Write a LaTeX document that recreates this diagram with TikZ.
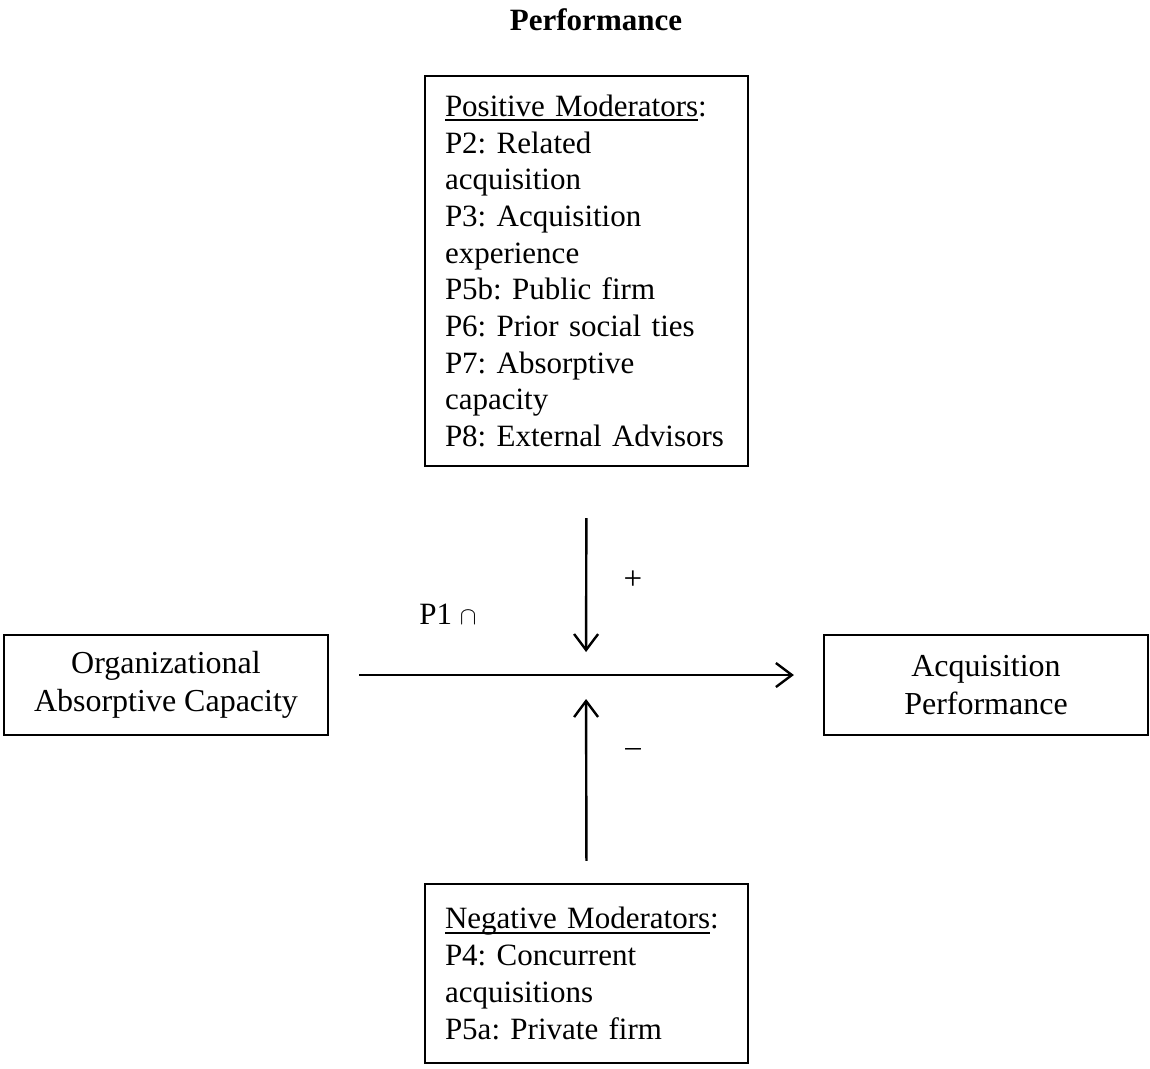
\documentclass[tikz,border=0pt]{standalone}
\usepackage{fontspec}
\setmainfont{Liberation Serif}
\usetikzlibrary{arrows.meta}

% underline drawn as a firm rule a little below the baseline
\newcommand{\heavyul}[1]{\setbox0\hbox{#1}\rlap{\rule[-4.5pt]{\wd0}{1.8pt}}\box0}

\begin{document}
\frenchspacing
\begin{tikzpicture}[x=1pt,y=-1pt,
  every node/.style={font=\fontsize{31}{36.7}\selectfont, text=black},
  box/.style={draw, line width=2.2pt, rectangle, inner sep=0pt},
  listbox/.style={box, align=left, text width=283pt, minimum width=323pt},
  midbox/.style={box, align=center, minimum width=324pt, minimum height=100pt,
                 font=\fontsize{32}{38}\selectfont},
  link/.style={line width=2.4pt, -{Straight Barb[length=16pt, width=24pt, line width=2.4pt]}}
]
\useasboundingbox (0,0) rectangle (1150,1068);

% heading
\node[font=\fontsize{31}{36}\selectfont\bfseries] (title) at (596,20) {Performance};

% moderator boxes
\node[listbox, minimum height=390pt] (pos) at (586.5,271) {%
\heavyul{Positive Moderators}:\\
P2: Related\\
acquisition\\
P3: Acquisition\\
experience\\
P5b: Public firm\\
P6: Prior social ties\\
P7: Absorptive\\
capacity\\
P8: External Advisors};

\node[listbox, minimum height=179pt] (neg) at (586.5,973.5) {%
\heavyul{Negative Moderators}:\\
P4: Concurrent\\
acquisitions\\
P5a: Private firm};

% main construct boxes
\node[midbox] (oac) at (166,685) {Organizational\\Absorptive Capacity};
\node[midbox] (acq) at (986,685) {Acquisition\\Performance};

% meeting point of the moderating arrows
\coordinate (hub) at (586,675);

\draw[link, shorten <=30pt, shorten >=29pt] (oac.east |- hub) -- (acq.west |- hub);
\draw[link, shorten <=51pt, shorten >=23pt] (pos.south) -- (hub);
\draw[link, shorten <=22pt, shorten >=24pt] (neg.north) -- (hub);

% labels
\node[font=\fontsize{33}{36}\selectfont] (plus) at (633,580) {+};
\node (p1) at (448,614) {P1 $\cap$};
\node (minus) at (633,752) {–};
\end{tikzpicture}
\end{document}
